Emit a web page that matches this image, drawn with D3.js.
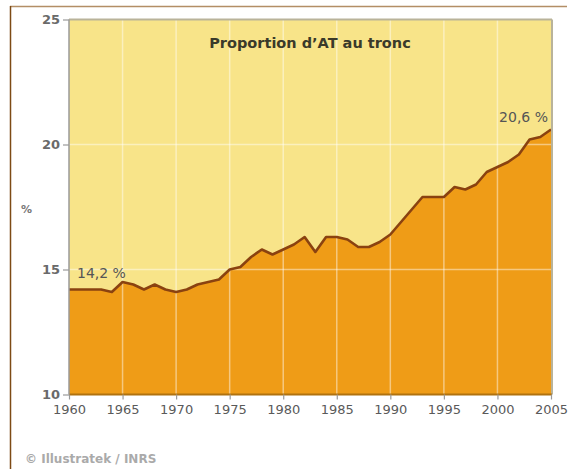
<!DOCTYPE html>
<html><head><meta charset="utf-8">
<script src="https://cdn.jsdelivr.net/npm/d3@7"></script>
<style>body{margin:0;background:#fff;}svg{display:block;}</style>
</head><body>
<script>
const years = [1960,1961,1962,1963,1964,1965,1966,1967,1968,1969,1970,1971,1972,1973,1974,1975,1976,1977,1978,1979,1980,1981,1982,1983,1984,1985,1986,1987,1988,1989,1990,1991,1992,1993,1994,1995,1996,1997,1998,1999,2000,2001,2002,2003,2004,2005];
const values = [14.2,14.2,14.2,14.2,14.1,14.5,14.4,14.2,14.4,14.2,14.1,14.2,14.4,14.5,14.6,15.0,15.1,15.5,15.8,15.6,15.8,16.0,16.3,15.7,16.3,16.3,16.2,15.9,15.9,16.1,16.4,16.9,17.4,17.9,17.9,17.9,18.3,18.2,18.4,18.9,19.1,19.3,19.6,20.2,20.3,20.6];
const xTicks = [1960,1965,1970,1975,1980,1985,1990,1995,2000,2005];
const yTicks = [10,15,20,25];
const title = "Proportion d\u2019AT au tronc";
const startLabel = "14,2 %";
const endLabel = "20,6 %";
const yLabel = "%";
const credit = "\u00a9 Illustratek / INRS";

const W = 569, H = 469;
const m = {left:69, right:18, top:19.5, bottom:74.5};
const svg = d3.select("body").append("svg").attr("width",W).attr("height",H);

svg.append("line").attr("x1",10).attr("x2",567).attr("y1",6.5).attr("y2",6.5).attr("stroke","#b38e66").attr("stroke-width",1.5);
svg.append("line").attr("x1",10.5).attr("x2",10.5).attr("y1",6).attr("y2",H).attr("stroke","#7d4a14").attr("stroke-width",1.5);

const x = d3.scaleLinear().domain([1960,2005]).range([m.left, W-m.right]);
const y = d3.scaleLinear().domain([10,25]).range([H-m.bottom, m.top]);
const data = years.map((yr,i)=>({yr, v:values[i]}));

const g = svg.append("g");
g.append("rect").attr("x",x(1960)).attr("y",y(25)).attr("width",x(2005)-x(1960)).attr("height",y(10)-y(25)).attr("fill","#f8e489");
g.append("path").datum(data).attr("fill","#ef9c17")
  .attr("d", d3.area().x(d=>x(d.yr)).y0(y(10)).y1(d=>y(d.v)));
xTicks.slice(1,-1).forEach(t=>{
  g.append("line").attr("x1",x(t)).attr("x2",x(t)).attr("y1",y(25)).attr("y2",y(10)).attr("stroke","rgba(255,255,255,0.45)").attr("stroke-width",1.5);
});
[15,20].forEach(t=>{
  g.append("line").attr("x1",x(1960)).attr("x2",x(2005)).attr("y1",y(t)).attr("y2",y(t)).attr("stroke","rgba(255,255,255,0.45)").attr("stroke-width",1.5);
});
g.append("path").datum(data).attr("fill","none").attr("stroke","#8a4210").attr("stroke-width",2.6).attr("stroke-linejoin","round")
  .attr("d", d3.line().x(d=>x(d.yr)).y(d=>y(d.v)));

g.append("line").attr("x1",x(1960)).attr("x2",x(2005)+1).attr("y1",y(25)).attr("y2",y(25)).attr("stroke","#b9b39a").attr("stroke-width",2);
g.append("line").attr("x1",x(2005)+1).attr("x2",x(2005)+1).attr("y1",y(25)).attr("y2",y(10)).attr("stroke","#b9b39a").attr("stroke-width",2);
g.append("line").attr("x1",x(1960)).attr("x2",x(2005)+1).attr("y1",y(10)).attr("y2",y(10)).attr("stroke","#b0720f").attr("stroke-width",2);

const yAxis = svg.append("g").attr("transform",`translate(${x(1960)},0)`)
  .call(d3.axisLeft(y).tickValues(yTicks).tickSize(6).tickPadding(3));
yAxis.select(".domain").attr("stroke","#9a9a9a").attr("stroke-width",1.5).attr("d",`M0,${y(25)}V${y(10)}`);
yAxis.selectAll(".tick line").attr("stroke","#9a9a9a").attr("stroke-width",1.2);
yAxis.selectAll("text").attr("font-family","DejaVu Sans").attr("font-size",13).attr("font-weight","bold").attr("fill","#6a6a6a").attr("dy","0.28em");

const xAxis = svg.append("g").attr("transform",`translate(0,${y(10)})`)
  .call(d3.axisBottom(x).tickValues(xTicks).tickFormat(d3.format("d")).tickSize(5).tickPadding(5));
xAxis.select(".domain").remove();
xAxis.selectAll(".tick line").attr("stroke","#9a9a9a").attr("stroke-width",1.2);
xAxis.selectAll("text").attr("font-family","DejaVu Sans").attr("font-size",13).attr("fill","#5a5a5a");

svg.append("text").attr("x",x(1982.5)).attr("y",48).attr("text-anchor","middle")
  .attr("font-family","DejaVu Sans").attr("font-weight","bold").attr("font-size",14.5).attr("fill","#3a3a2a").text(title);
svg.append("text").attr("x",x(1960)+8).attr("y",y(14.2)-12).attr("font-family","DejaVu Sans").attr("font-size",14).attr("fill","#555").text(startLabel);
svg.append("text").attr("x",x(2005)-3).attr("y",y(20.6)-8).attr("text-anchor","end").attr("font-family","DejaVu Sans").attr("font-size",14).attr("fill","#555").text(endLabel);
svg.append("text").attr("x",21).attr("y",213).attr("font-family","DejaVu Sans").attr("font-size",11).attr("font-weight","bold").attr("fill","#777").text(yLabel);
svg.append("text").attr("x",25).attr("y",463).attr("font-family","DejaVu Sans").attr("font-size",12).attr("font-weight","bold").attr("fill","#aaa").text(credit);
</script>
</body></html>
